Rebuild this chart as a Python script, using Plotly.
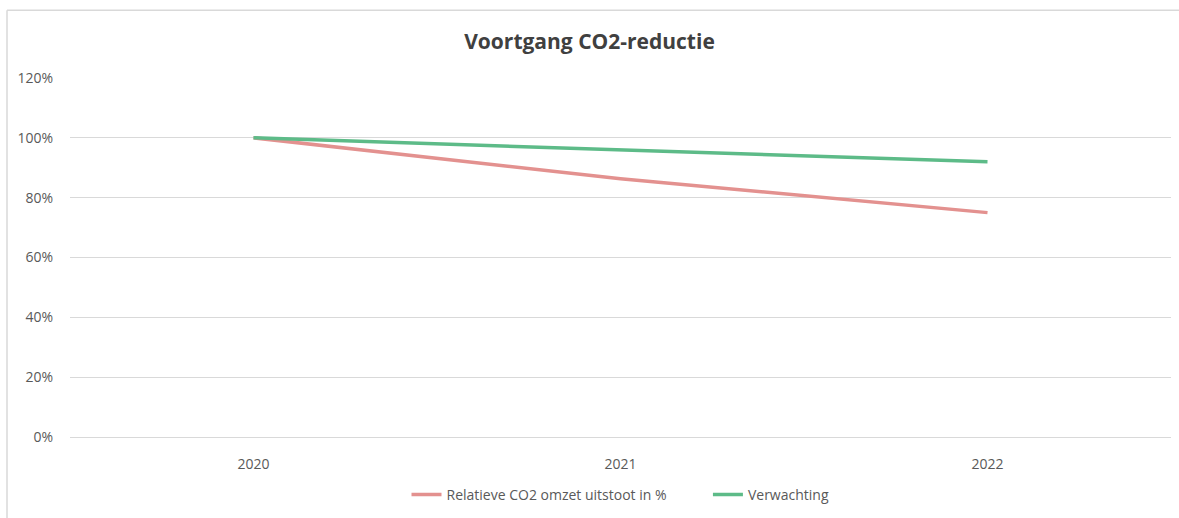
import plotly.graph_objects as go

years = ["2020", "2021", "2022"]
relatief = [100, 86.3, 75]
verwachting = [100, 96, 92]
y_ticks = [0, 20, 40, 60, 80, 100, 120]
y_labels = ["0%", "20%", "40%", "60%", "80%", "100%", "120%"]
series_names = ["Relatieve CO2 omzet uitstoot in %", "Verwachting"]

L, R, T, B = 70, 8, 78, 80
W, H = 1179, 518
pw, ph = W - L - R, H - T - B

def px_x(v):
    return (v - L) / pw

def px_y(v):
    return (H - B - v) / ph

fig = go.Figure()
fig.add_trace(go.Scatter(x=years, y=relatief, mode="lines",
                         name=series_names[0] + "\u00a0" * 10,
                         line=dict(color="#E3918F", width=3.5)))
fig.add_trace(go.Scatter(x=years, y=verwachting, mode="lines",
                         name=series_names[1],
                         line=dict(color="#5DBB88", width=3.5)))

font_family = "Open Sans, Liberation Sans, sans-serif"
fig.update_layout(
    width=W, height=H,
    margin=dict(l=L, r=R, t=T, b=B),
    paper_bgcolor="white", plot_bgcolor="white",
    title=dict(text="<b>Voortgang CO2-reductie</b>", x=0.5, xanchor="center",
               y=1 - 42 / H, yanchor="middle",
               font=dict(family=font_family, size=21, color="#404040")),
    font=dict(family=font_family, size=14, color="#595959"),
    xaxis=dict(type="category", range=[-0.5, 2.5], showgrid=False,
               showline=False, zeroline=False, ticks="outside", ticklen=14,
               tickcolor="rgba(0,0,0,0)", tickfont=dict(size=14, color="#595959")),
    yaxis=dict(range=[0, 120], tickvals=y_ticks, ticktext=y_labels,
               showgrid=True, gridcolor="#D9D9D9", gridwidth=1,
               zeroline=True, zerolinecolor="#D9D9D9", zerolinewidth=1,
               showline=False, ticks="outside", ticklen=13,
               tickcolor="rgba(0,0,0,0)", tickfont=dict(size=14, color="#595959")),
    legend=dict(orientation="h", x=0.5, xanchor="center", y=px_y(495), yanchor="middle",
                font=dict(size=14, color="#595959"),
                traceorder="normal"),
    showlegend=True,
)

fig.add_shape(type="line", xref="paper", yref="paper",
              x0=px_x(7), y0=px_y(10), x1=px_x(W + 5), y1=px_y(10),
              line=dict(color="#D9D9D9", width=1.5))
fig.add_shape(type="line", xref="paper", yref="paper",
              x0=px_x(7), y0=px_y(10), x1=px_x(7), y1=px_y(H + 5),
              line=dict(color="#D9D9D9", width=1.5))

fig.write_html("out.html", config={"displayModeBar": False},
               post_script="document.body.style.margin='0';document.body.style.overflow='hidden';")
